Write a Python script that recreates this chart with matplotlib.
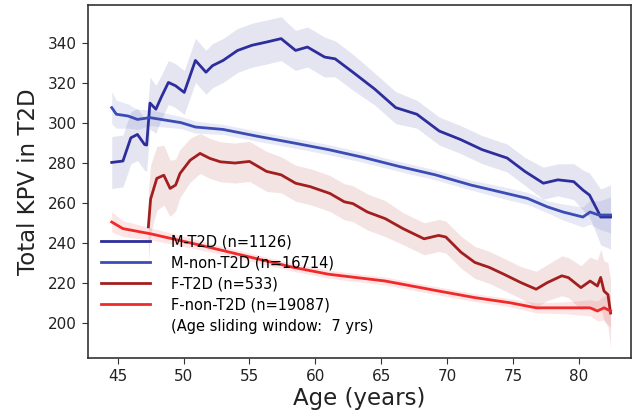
import matplotlib
matplotlib.use('Agg')
import matplotlib.pyplot as plt
import numpy as np

# values
m_t2d_age = [44.55, 45.4, 46.0, 46.5, 47.05, 47.2, 47.45, 47.9, 48.3, 48.85, 49.4, 50.05,
             50.9, 51.7, 52.2, 53.0, 54.1, 55.2, 56.3, 57.4, 58.5, 59.4, 60.7, 61.5,
             62.85, 64.5, 66.1, 67.7, 69.4, 71.0, 72.65, 74.55, 75.9, 77.3, 78.4, 79.6,
             80.3, 80.8, 81.4, 81.65, 82.4]
m_t2d_kpv = [280.3, 281.0, 292.6, 294.3, 289.2, 289.0, 310.0, 306.9, 312.8, 320.3, 318.6, 315.3,
             331.3, 325.4, 328.7, 331.3, 336.3, 338.9, 340.5, 342.2, 336.3, 338.0, 333.0, 332.1,
             325.4, 317.0, 307.7, 304.4, 296.0, 291.8, 286.7, 282.5, 275.8, 269.9, 271.6, 270.7,
             266.5, 264.0, 256.4, 253.0, 253.0]
m_t2d_err = [13, 13, 13, 13, 13, 13, 13, 12, 11, 11, 11, 11,
             11, 11, 11, 11, 11, 11, 11, 11, 10, 10, 10, 9,
             9, 8, 8, 7, 7, 7, 7, 7, 7, 8, 8, 9,
             10, 11, 13, 14, 16]

m_non_age = [44.55, 44.9, 45.8, 46.5, 47.45, 49.8, 50.9, 53.0, 55.6, 58.3, 61.0, 63.65,
             66.35, 69.1, 71.8, 74.5, 76.1, 77.6, 78.8, 80.3, 80.85, 81.5, 82.4]
m_non_kpv = [307.7, 304.4, 303.5, 301.8, 302.7, 300.2, 298.0, 296.8, 293.4, 290.1, 286.7, 282.8,
             278.3, 274.1, 269.0, 264.8, 262.3, 258.1, 255.5, 253.0, 255.5, 254.0, 254.0]
m_non_err = [8, 7, 6, 5, 4, 3, 3, 2.5, 2.5, 2.5, 2.5, 2.5,
             2.5, 2.5, 2.5, 3, 3, 3, 4, 5, 6, 7, 9]

f_t2d_age = [47.33, 47.5, 47.97, 48.5, 48.98, 49.4, 49.73, 50.5, 51.25, 52.0, 52.8, 53.9,
             55.0, 56.3, 57.4, 58.5, 59.6, 61.1, 62.2, 62.85, 63.95, 65.3, 66.65, 68.25,
             69.35, 69.9, 71.05, 72.1, 73.2, 74.3, 75.6, 76.75, 77.6, 78.7, 79.2, 80.15,
             80.85, 81.4, 81.65, 81.9, 82.2, 82.4]
f_t2d_kpv = [248.1, 262.0, 272.3, 273.9, 267.3, 269.0, 274.8, 281.4, 284.8, 282.3, 280.6, 280.0,
             280.8, 275.8, 274.1, 269.9, 268.2, 264.8, 260.6, 259.7, 255.5, 252.2, 247.2, 242.1,
             243.8, 243.0, 235.4, 230.3, 227.8, 224.4, 220.2, 216.9, 220.2, 223.6, 222.7, 217.7,
             221.0, 218.5, 222.8, 216.0, 214.2, 205.0]
f_t2d_err = [18, 17, 16, 15, 14, 13, 12, 11, 10, 10, 10, 10,
             10, 10, 9, 9, 9, 9, 9, 9, 9, 9, 8, 8,
             8, 8, 8, 8, 8, 8, 8, 9, 9, 10, 10, 11,
             12, 13, 14, 15, 16, 17]

f_non_age = [44.55, 45.4, 47.5, 50.3, 53.0, 55.65, 58.35, 61.0, 65.3, 69.35, 72.1, 74.8,
             76.75, 78.9, 80.85, 81.4, 81.9, 82.4]
f_non_kpv = [250.5, 247.2, 244.6, 240.4, 236.2, 232.0, 227.8, 224.4, 221.0, 216.0, 212.7, 210.1,
             207.6, 207.6, 207.6, 206.0, 207.6, 206.0]
f_non_err = [5, 4, 3, 2.5, 2, 2, 2, 2, 2, 2, 2, 2,
             2.5, 3, 4, 5, 6, 8]

series = [
    ('M-T2D (n=1126)', m_t2d_age, m_t2d_kpv, m_t2d_err, '#2d2d9c'),
    ('M-non-T2D (n=16714)', m_non_age, m_non_kpv, m_non_err, '#3b4db5'),
    ('F-T2D (n=533)', f_t2d_age, f_t2d_kpv, f_t2d_err, '#a31f1f'),
    ('F-non-T2D (n=19087)', f_non_age, f_non_kpv, f_non_err, '#f02a2a'),
]

fig = plt.figure(figsize=(6.41, 4.2), dpi=100)
ax = fig.add_axes([0.1373, 0.1476, 0.8471, 0.8404])

for label, age, kpv, err, color in series:
    age = np.array(age)
    kpv = np.array(kpv)
    err = np.array(err)
    ax.fill_between(age, kpv - err, kpv + err, color=color, alpha=0.12, linewidth=0)
    ax.plot(age, kpv, color=color, linewidth=2, label=label)

ax.plot([], [], ' ', label='(Age sliding window:  7 yrs)')

ax.set_xlim(42.75, 83.95)
ax.set_ylim(182.5, 359)
ax.set_xticks([45, 50, 55, 60, 65, 70, 75, 80])
ax.set_yticks([200, 220, 240, 260, 280, 300, 320, 340])
ax.tick_params(labelsize=11, length=4.5, colors='#333333', labelcolor='#222222')
for spine in ax.spines.values():
    spine.set_color('#333333')
    spine.set_linewidth(1.2)

ax.set_xlabel('Age (years)', fontsize=16.5, color='#222222', labelpad=2)
ax.set_ylabel('Total KPV in T2D', fontsize=16.5, color='#222222', labelpad=6)

ax.legend(loc='lower left', bbox_to_anchor=(0.006, 0.04), frameon=False, fontsize=10.5,
          handlelength=3.3, handletextpad=1.45, labelspacing=0.42, borderaxespad=0.3)

fig.savefig('out.png', dpi=100)
